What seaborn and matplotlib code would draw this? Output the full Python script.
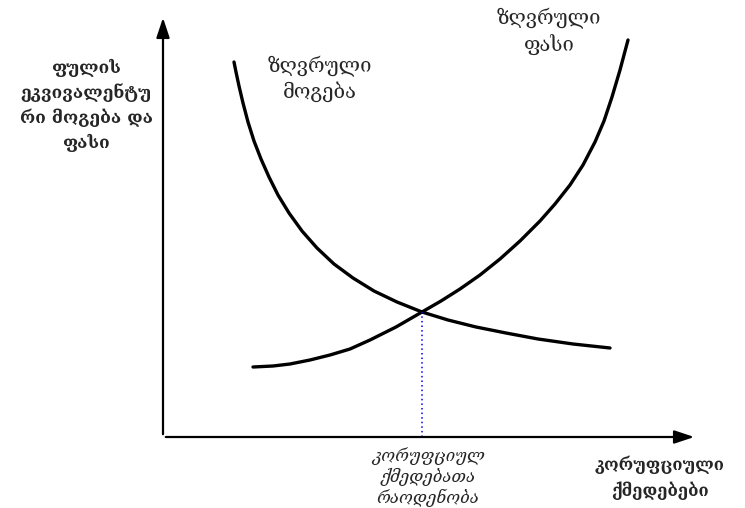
import pandas as pd
import seaborn as sns
import matplotlib.pyplot as plt

# ზღვრული მოგება (დაღმავალი მრუდი)
mogeba_x = [71, 73, 76, 80, 85, 91, 98, 106, 115, 126, 139, 154, 171, 190, 211, 234,
            259, 285, 313, 343, 375, 410, 447]
mogeba_y = [375, 365, 351, 334, 315, 296, 278, 260, 242, 224, 206, 189, 173, 159, 146, 135,
            125, 117, 110, 104, 98, 93, 89]

# ზღვრული ფასი (აღმავალი მრუდი)
fasi_x = [90, 110, 127, 147, 167, 187, 207, 233, 259, 278, 297, 317, 337, 357, 377, 392,
          407, 420, 432, 441, 449, 457, 465]
fasi_y = [70, 71, 73, 77, 82, 88, 97, 110, 125, 136, 148, 162, 178, 196, 216, 233,
          252, 272, 295, 316, 340, 367, 397]

# წონასწორობის წერტილი
eq_x = 259
eq_y = 125

sns.set_style('white')
plt.rcParams['font.family'] = ['DejaVu Serif', 'DejaVu Sans']

fig = plt.figure(figsize=(7.45, 5.08), dpi=100)
W, H = 745, 508
ax = fig.add_axes([163 / W, (H - 437) / H, 534 / W, 422 / H])
ax.set_xlim(0, 534)
ax.set_ylim(0, 422)

df1 = pd.DataFrame({'x': mogeba_x, 'y': mogeba_y})
df2 = pd.DataFrame({'x': fasi_x, 'y': fasi_y})
sns.lineplot(data=df1, x='x', y='y', sort=False, color='black', lw=2.4, ax=ax)
sns.lineplot(data=df2, x='x', y='y', sort=False, color='black', lw=2.4, ax=ax)
ax.plot([eq_x, eq_x], [0, eq_y], color='blue', lw=1.1, ls=(0, (1, 2)))

for s in ax.spines.values():
    s.set_visible(False)
ax.set_xticks([])
ax.set_yticks([])
ax.set_xlabel('')
ax.set_ylabel('')

# ღერძები ისრებით
arrow = dict(arrowstyle='-|>,head_length=1.2,head_width=0.4', color='black', lw=1.6)
ax.annotate('', xy=(1.0, 0), xytext=(0, 0), xycoords='axes fraction',
            arrowprops=arrow, annotation_clip=False)
ax.annotate('', xy=(0, 1.0), xytext=(0, 0), xycoords='axes fraction',
            arrowprops=arrow, annotation_clip=False)


def px(x, y):
    return x / W, 1 - y / H


fig.text(*px(86, 105), 'ფულის\nეკვივალენტუ\nრი მოგება და\nფასი', ha='center', va='center',
         fontsize=12.5, fontweight='bold', linespacing=1.45)
fig.text(*px(320, 79), 'ზღვრული\nმოგება', ha='center', va='center', fontsize=14.5, linespacing=1.3)
fig.text(*px(549, 32), 'ზღვრული\nფასი', ha='center', va='center', fontsize=14.5, linespacing=1.3)
fig.text(*px(428, 477), 'კორუფციულ\nქმედებათა\nრაოდენობა', ha='center', va='center',
         fontsize=12, style='italic', linespacing=1.2)
fig.text(*px(660, 478), 'კორუფციული\nქმედებები', ha='center', va='center',
         fontsize=12, fontweight='bold', linespacing=1.55)

fig.savefig('out.png', dpi=100)
